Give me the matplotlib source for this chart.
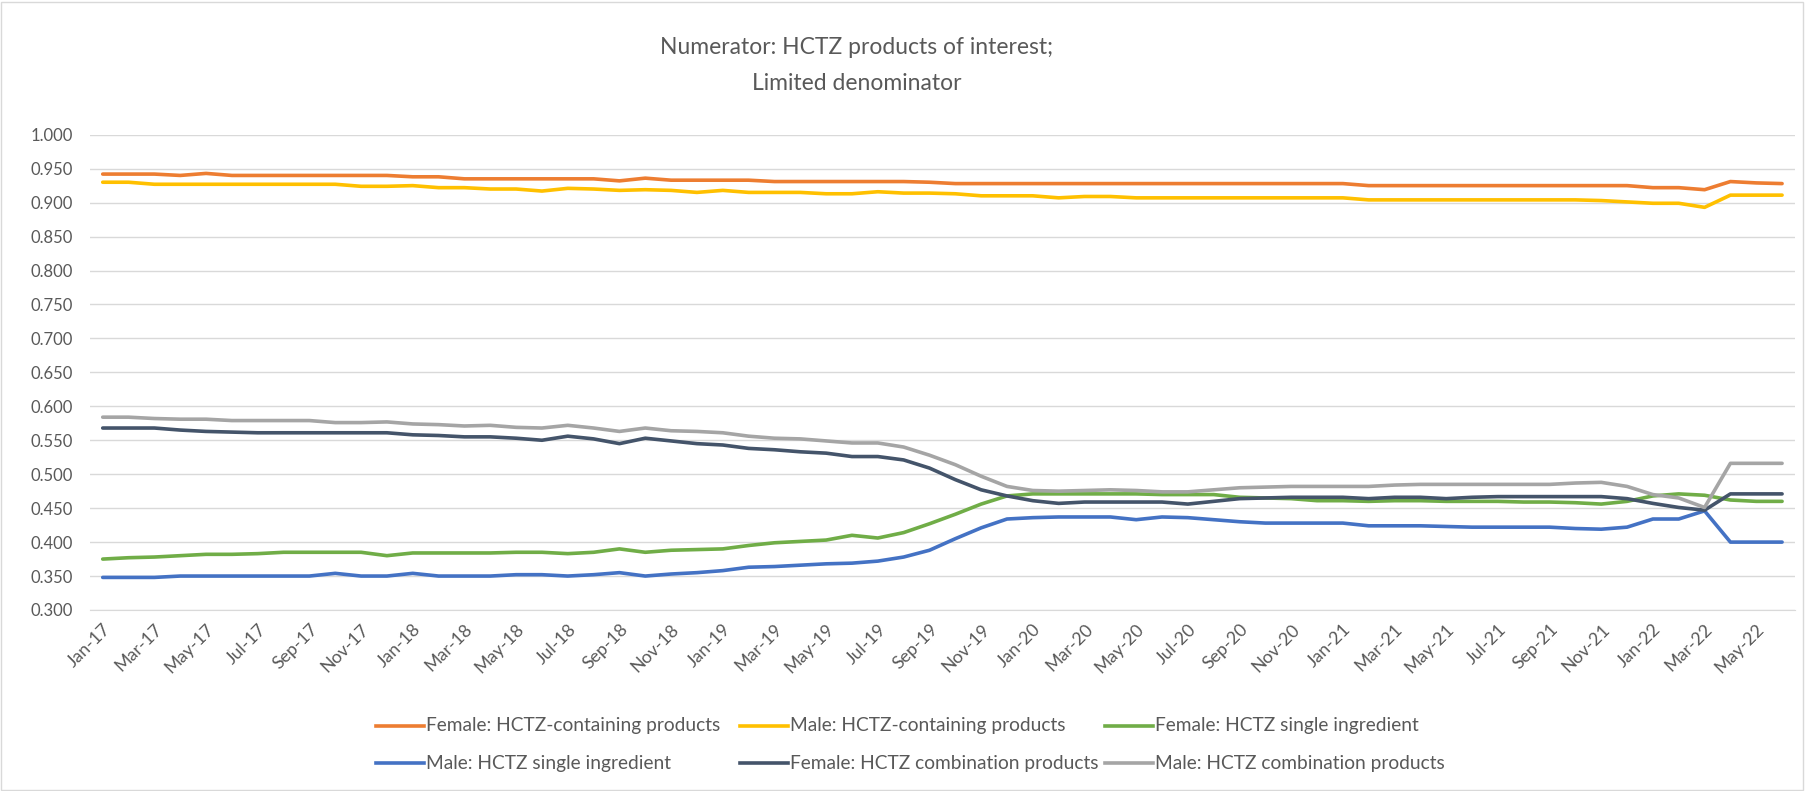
import matplotlib.pyplot as plt
from matplotlib.lines import Line2D
from matplotlib.patches import Rectangle
import numpy as np
import pandas as pd

plt.rcParams['font.family'] = ['Lato', 'DejaVu Sans']

# monthly categories, Jan-17 .. Jun-22
months = pd.date_range('2017-01-01', periods=66, freq='MS').strftime('%b-%y').tolist()

female_containing = [0.942, 0.942, 0.942, 0.940, 0.943, 0.940, 0.940, 0.940, 0.940, 0.940,
                     0.940, 0.940, 0.938, 0.938, 0.935, 0.935, 0.935, 0.935, 0.935, 0.935,
                     0.932, 0.936, 0.933, 0.933, 0.933, 0.933, 0.931, 0.931, 0.931, 0.931,
                     0.931, 0.931, 0.930, 0.928, 0.928, 0.928, 0.928, 0.928, 0.928, 0.928,
                     0.928, 0.928, 0.928, 0.928, 0.928, 0.928, 0.928, 0.928, 0.928, 0.925,
                     0.925, 0.925, 0.925, 0.925, 0.925, 0.925, 0.925, 0.925, 0.925, 0.925,
                     0.922, 0.922, 0.919, 0.931, 0.929, 0.928]
male_containing = [0.930, 0.930, 0.927, 0.927, 0.927, 0.927, 0.927, 0.927, 0.927, 0.927,
                   0.924, 0.924, 0.925, 0.922, 0.922, 0.920, 0.920, 0.917, 0.921, 0.920,
                   0.918, 0.919, 0.918, 0.915, 0.918, 0.915, 0.915, 0.915, 0.913, 0.913,
                   0.916, 0.914, 0.914, 0.913, 0.910, 0.910, 0.910, 0.907, 0.909, 0.909,
                   0.907, 0.907, 0.907, 0.907, 0.907, 0.907, 0.907, 0.907, 0.907, 0.904,
                   0.904, 0.904, 0.904, 0.904, 0.904, 0.904, 0.904, 0.904, 0.903, 0.901,
                   0.899, 0.899, 0.893, 0.911, 0.911, 0.911]
female_single = [0.375, 0.377, 0.378, 0.380, 0.382, 0.382, 0.383, 0.385, 0.385, 0.385,
                 0.385, 0.380, 0.384, 0.384, 0.384, 0.384, 0.385, 0.385, 0.383, 0.385,
                 0.390, 0.385, 0.388, 0.389, 0.390, 0.395, 0.399, 0.401, 0.403, 0.410,
                 0.406, 0.414, 0.427, 0.441, 0.456, 0.468, 0.471, 0.471, 0.471, 0.471,
                 0.471, 0.470, 0.470, 0.470, 0.466, 0.465, 0.464, 0.461, 0.461, 0.460,
                 0.461, 0.461, 0.460, 0.460, 0.460, 0.459, 0.459, 0.458, 0.456, 0.460,
                 0.468, 0.471, 0.469, 0.462, 0.460, 0.460]
male_single = [0.348, 0.348, 0.348, 0.350, 0.350, 0.350, 0.350, 0.350, 0.350, 0.354,
               0.350, 0.350, 0.354, 0.350, 0.350, 0.350, 0.352, 0.352, 0.350, 0.352,
               0.355, 0.350, 0.353, 0.355, 0.358, 0.363, 0.364, 0.366, 0.368, 0.369,
               0.372, 0.378, 0.388, 0.405, 0.421, 0.434, 0.436, 0.437, 0.437, 0.437,
               0.433, 0.437, 0.436, 0.433, 0.430, 0.428, 0.428, 0.428, 0.428, 0.424,
               0.424, 0.424, 0.423, 0.422, 0.422, 0.422, 0.422, 0.420, 0.419, 0.422,
               0.434, 0.434, 0.446, 0.400, 0.400, 0.400]
female_combo = [0.568, 0.568, 0.568, 0.565, 0.563, 0.562, 0.561, 0.561, 0.561, 0.561,
                0.561, 0.561, 0.558, 0.557, 0.555, 0.555, 0.553, 0.550, 0.556, 0.552,
                0.545, 0.553, 0.549, 0.545, 0.543, 0.538, 0.536, 0.533, 0.531, 0.526,
                0.526, 0.521, 0.509, 0.492, 0.477, 0.468, 0.461, 0.457, 0.459, 0.459,
                0.459, 0.459, 0.456, 0.460, 0.464, 0.465, 0.466, 0.466, 0.466, 0.464,
                0.466, 0.466, 0.464, 0.466, 0.467, 0.467, 0.467, 0.467, 0.467, 0.464,
                0.457, 0.451, 0.447, 0.471, 0.471, 0.471]
male_combo = [0.584, 0.584, 0.582, 0.581, 0.581, 0.579, 0.579, 0.579, 0.579, 0.576,
              0.576, 0.577, 0.574, 0.573, 0.571, 0.572, 0.569, 0.568, 0.572, 0.568,
              0.563, 0.568, 0.564, 0.563, 0.561, 0.556, 0.553, 0.552, 0.549, 0.546,
              0.546, 0.540, 0.528, 0.514, 0.497, 0.482, 0.476, 0.475, 0.476, 0.477,
              0.476, 0.474, 0.474, 0.477, 0.480, 0.481, 0.482, 0.482, 0.482, 0.482,
              0.484, 0.485, 0.485, 0.485, 0.485, 0.485, 0.485, 0.487, 0.488, 0.482,
              0.470, 0.465, 0.451, 0.516, 0.516, 0.516]

labels = ['Female: HCTZ-containing products', 'Male: HCTZ-containing products',
          'Female: HCTZ single ingredient', 'Male: HCTZ single ingredient',
          'Female: HCTZ combination products', 'Male: HCTZ combination products']
series = [female_containing, male_containing, female_single,
          male_single, female_combo, male_combo]
colors = ['#ED7D31', '#FFC000', '#70AD47', '#4472C4', '#44546A', '#A5A5A5']

W, H = 1805, 791
fig = plt.figure(figsize=(W / 100, H / 100), dpi=100)
ax = fig.add_axes([89.8 / W, 1 - 610 / H, (1795 - 89.8) / W, (610 - 134.7) / H])

x = np.arange(len(months))
for vals, c in zip(series, colors):
    ax.plot(x, vals, color=c, lw=2.6, solid_capstyle='round', solid_joinstyle='round')

ax.set_xlim(-0.5, len(months) - 0.5)
ax.set_ylim(0.3, 1.0)
ax.set_yticks(np.arange(0.3, 1.0001, 0.05))
ax.yaxis.set_major_formatter(plt.FuncFormatter(lambda v, p: f'{v:.3f}'))
ax.set_xticks(x[::2])
ax.set_xticklabels(months[::2], rotation=45, ha='right', va='top', rotation_mode='anchor')
ax.grid(axis='y', color='#d9d9d9', lw=1)
ax.set_axisbelow(True)
for s in ['top', 'right', 'left']:
    ax.spines[s].set_visible(False)
ax.spines['bottom'].set_color('#d9d9d9')
ax.tick_params(axis='both', length=0, labelcolor='#595959')
ax.tick_params(axis='y', pad=12, labelsize=12)
ax.tick_params(axis='x', pad=8, labelsize=12.8)

# two-line title
fig.text(857 / W, 1 - 48 / H, 'Numerator: HCTZ products of interest;',
         ha='center', va='center', fontsize=16.5, color='#595959')
fig.text(857 / W, 1 - 84 / H, 'Limited denominator',
         ha='center', va='center', fontsize=16.5, color='#595959')

# legend, laid out row by row like the original
col_x = [376, 740, 1105]
row_y = [726, 763]
for k, (lab, c) in enumerate(zip(labels, colors)):
    x0 = col_x[k % 3]
    y0 = row_y[k // 3]
    fig.add_artist(Line2D([x0 / W, (x0 + 48) / W], [1 - y0 / H, 1 - y0 / H],
                          color=c, lw=2.6, transform=fig.transFigure))
    fig.text((x0 + 50) / W, 1 - y0 / H, lab, ha='left', va='center',
             fontsize=13.8, color='#595959')

fig.add_artist(Rectangle((1 / W, 1 / H), (W - 3) / W, (H - 3) / H, fill=False,
                         edgecolor='#d9d9d9', lw=1, transform=fig.transFigure))

fig.savefig('out.png', dpi=100)
